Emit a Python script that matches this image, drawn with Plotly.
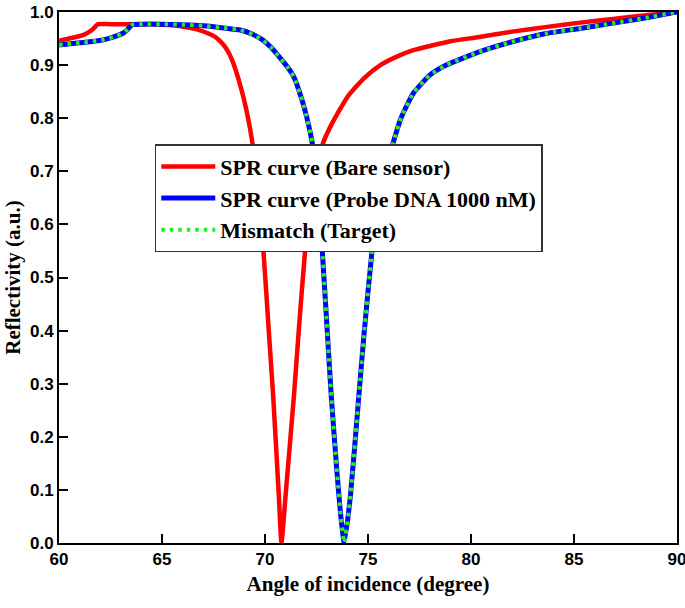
import plotly.graph_objects as go

# ---- data ----
bare_x = [60.0, 60.5, 61.2, 61.6, 61.9, 62.5, 63.5, 64.5, 65.5, 66.2, 66.8, 67.5, 67.8, 68.1, 68.4,
          68.8, 69.1, 69.4, 69.66, 69.92, 70.2, 70.4, 70.67, 70.8, 71.0, 71.4, 71.62, 71.95, 72.2, 72.5,
          72.8, 73.2, 74.0, 74.8, 75.6, 76.4, 77.2, 78.0, 79.0, 80.4, 82.0, 83.7, 85.3, 86.9, 88.5, 89.7, 90.0]
bare_y = [0.946, 0.950, 0.957, 0.966, 0.977, 0.977, 0.977, 0.977, 0.975, 0.971, 0.966, 0.955, 0.946, 0.932, 0.910,
          0.862, 0.815, 0.751, 0.660, 0.552, 0.390, 0.275, 0.090, 0.000, 0.090, 0.275, 0.390, 0.552, 0.630, 0.700,
          0.751, 0.786, 0.840, 0.875, 0.900, 0.916, 0.928, 0.936, 0.945, 0.953, 0.963, 0.972, 0.980, 0.987, 0.994, 0.998, 1.000]

probe_x = [60.0, 61.0, 61.5, 62.2, 62.8, 63.1, 63.3, 63.55, 64.0, 65.0, 66.0, 67.0, 68.0, 68.8, 69.4, 69.9,
           70.3, 70.7, 71.1, 71.4, 71.8, 72.0, 72.2, 72.3, 72.55, 72.78, 73.02, 73.22, 73.5, 73.68, 73.85,
           74.15, 74.55, 74.8, 75.2, 75.6, 76.2, 76.6, 77.2, 78.0, 78.8, 80.4, 82.0, 83.7, 85.3, 86.9, 88.5, 89.7, 90.0]
probe_y = [0.938, 0.942, 0.944, 0.948, 0.955, 0.960, 0.966, 0.976, 0.977, 0.977, 0.976, 0.974, 0.970, 0.966, 0.958, 0.947,
           0.933, 0.915, 0.896, 0.878, 0.834, 0.806, 0.772, 0.751, 0.655, 0.550, 0.400, 0.275, 0.130, 0.050, 0.000,
           0.090, 0.275, 0.390, 0.552, 0.665, 0.751, 0.800, 0.847, 0.881, 0.900, 0.925, 0.944, 0.960, 0.969, 0.979, 0.989, 0.998, 1.000]

mismatch_x = probe_x
mismatch_y = probe_y

x_ticks = [60, 65, 70, 75, 80, 85, 90]
y_ticks = [0.0, 0.1, 0.2, 0.3, 0.4, 0.5, 0.6, 0.7, 0.8, 0.9, 1.0]

names = ["SPR curve (Bare sensor)", "SPR curve (Probe DNA 1000 nM)", "Mismatch (Target)"]

serif = "Times New Roman, Liberation Serif, serif"
sans = "Arial, Liberation Sans, sans-serif"

fig = go.Figure()
fig.add_trace(go.Scatter(x=bare_x, y=bare_y, mode="lines", name=names[0], legendgroup="a",
                         line=dict(color="#ff0000", width=4.5, shape="spline", smoothing=0.5)))
fig.add_trace(go.Scatter(x=probe_x, y=probe_y, mode="lines", name=names[1], legendgroup="b",
                         line=dict(color="#0000ff", width=5, shape="spline", smoothing=0.5)))
fig.add_trace(go.Scatter(x=mismatch_x, y=mismatch_y, mode="lines", name=names[2], legendgroup="c",
                         line=dict(color="#22ee22", width=4, dash="3.5px,5px", shape="spline", smoothing=0.5)))

axis_common = dict(showline=True, linecolor="black", linewidth=2, mirror=True,
                   ticks="inside", ticklen=9, tickwidth=1.5, tickcolor="black",
                   showgrid=False, zeroline=False, automargin=False, ticklabeloverflow="allow",
                   tickfont=dict(family=sans, size=17, color="black", weight="bold"))

fig.update_xaxes(range=[60, 90], tickvals=x_ticks, ticktext=[str(v) for v in x_ticks],
                 title=dict(text="Angle of incidence (degree)", standoff=8,
                            font=dict(family=serif, size=21, color="black", weight="bold")),
                 **axis_common)
fig.update_yaxes(range=[0, 1.0], tickvals=y_ticks, ticktext=[f"{v:.1f}" for v in y_ticks],
                 title=dict(text="Reflectivity (a.u.)", standoff=4,
                            font=dict(family=serif, size=21, color="black", weight="bold")),
                 **axis_common)

fig.update_layout(
    width=685, height=608,
    margin=dict(l=59, r=8, t=12, b=65),
    paper_bgcolor="white", plot_bgcolor="white",
    showlegend=True,
    legend=dict(x=0.155, y=0.751, xanchor="left", yanchor="top",
                bgcolor="white", bordercolor="#333333", borderwidth=1.5,
                font=dict(family=serif, size=22, color="black", weight="bold"),
                tracegroupgap=11, itemwidth=54, traceorder="normal"),
)

fig.write_html("out.html", config={"displayModeBar": False},
               post_script="document.body.style.margin='0';document.body.style.overflow='hidden';")
